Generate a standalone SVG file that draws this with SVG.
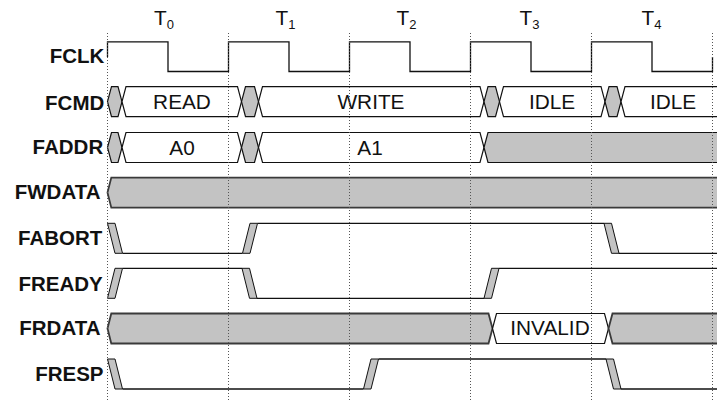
<svg xmlns="http://www.w3.org/2000/svg" width="717" height="402" viewBox="0 0 717 402">
  <style>
    .lbl { font-family: "Liberation Sans", Arial, sans-serif; font-size: 20.5px; font-weight: bold; fill: #111; text-anchor: end; }
    .cyc { font-family: "Liberation Sans", Arial, sans-serif; font-size: 20.8px; fill: #111; }
    .sub { font-size: 13px; }
    .val { font-family: "Liberation Sans", Arial, sans-serif; font-size: 20.8px; fill: #111; text-anchor: middle; }
    .wire { fill: none; stroke: #111; stroke-width: 1.3; }
    .bus { stroke: #111; stroke-width: 1.2; stroke-linejoin: miter; }
    .busw { fill: #fff; }
    .busx { fill: #c3c3c3; }
    .bar { fill: #c3c3c3; stroke: #3a3a3a; stroke-width: 1.8; }
    .edge { fill: #c3c3c3; stroke: #111; stroke-width: 1; }
    .grid { stroke: #555; stroke-width: 1; stroke-dasharray: 1 2; fill: none; }
  </style>

  <rect width="717" height="402" fill="#fff"/>

  <!-- cycle labels -->
  <g id="cycles">
    <text class="cyc" x="154" y="25">T<tspan class="sub" dy="3.5">0</tspan></text>
    <text class="cyc" x="275.5" y="25">T<tspan class="sub" dy="3.5">1</tspan></text>
    <text class="cyc" x="396.5" y="25">T<tspan class="sub" dy="3.5">2</tspan></text>
    <text class="cyc" x="519.5" y="25">T<tspan class="sub" dy="3.5">3</tspan></text>
    <text class="cyc" x="641.5" y="25">T<tspan class="sub" dy="3.5">4</tspan></text>
  </g>

  <!-- signal names -->
  <g id="labels">
    <text class="lbl" x="104.3" y="63.3">FCLK</text>
    <text class="lbl" x="104.3" y="109.5">FCMD</text>
    <text class="lbl" x="103.2" y="153.5">FADDR</text>
    <text class="lbl" x="100.5" y="198.5">FWDATA</text>
    <text class="lbl" x="102.3" y="245">FABORT</text>
    <text class="lbl" x="102.8" y="290.5">FREADY</text>
    <text class="lbl" x="100.5" y="335">FRDATA</text>
    <text class="lbl" x="103.5" y="380.5">FRESP</text>
  </g>

  <!-- clock -->
  <g id="fclk">
    <path class="wire" d="M107.5,57 V41.8 H168 V71.5 H228.5 V41.8 H289 V71.5 H349.5 V41.8 H410 V71.5 H470.5 V41.8 H531 V71.5 H591.5 V41.8 H652 V71.5 H712.5 V57"/>
  </g>

  <!-- command bus -->
  <g id="fcmd" class="bus">
    <polygon class="busx" points="107.5,101.7 111.5,86.7 118,86.7 122,101.7 118,116.7 111.5,116.7"/>
    <polygon class="busw" points="122,101.7 126,86.7 237.5,86.7 241.5,101.7 237.5,116.7 126,116.7"/>
    <polygon class="busx" points="241.5,101.7 245.5,86.7 254.5,86.7 258.5,101.7 254.5,116.7 245.5,116.7"/>
    <polygon class="busw" points="258.5,101.7 262.5,86.7 480,86.7 484,101.7 480,116.7 262.5,116.7"/>
    <polygon class="busx" points="484,101.7 488,86.7 495.5,86.7 499.5,101.7 495.5,116.7 488,116.7"/>
    <polygon class="busw" points="499.5,101.7 503.5,86.7 601,86.7 605,101.7 601,116.7 503.5,116.7"/>
    <polygon class="busx" points="605,101.7 609,86.7 617,86.7 621,101.7 617,116.7 609,116.7"/>
    <polygon class="busw" points="621,101.7 625,86.7 722,86.7 722,116.7 625,116.7"/>
  </g>
  <g id="fcmd-values">
    <text class="val" x="182" y="109">READ</text>
    <text class="val" x="371" y="109">WRITE</text>
    <text class="val" x="552" y="109">IDLE</text>
    <text class="val" x="673" y="109">IDLE</text>
  </g>

  <!-- address bus -->
  <g id="faddr" class="bus">
    <polygon class="busx" points="107.5,147.5 111.5,132.5 118,132.5 122,147.5 118,162.5 111.5,162.5"/>
    <polygon class="busw" points="122,147.5 126,132.5 237.5,132.5 241.5,147.5 237.5,162.5 126,162.5"/>
    <polygon class="busx" points="241.5,147.5 245.5,132.5 254.5,132.5 258.5,147.5 254.5,162.5 245.5,162.5"/>
    <polygon class="busw" points="258.5,147.5 262.5,132.5 480,132.5 484,147.5 480,162.5 262.5,162.5"/>
    <polygon class="busx" points="484,147.5 488,132.5 722,132.5 722,162.5 488,162.5"/>
  </g>
  <g id="faddr-values">
    <text class="val" x="182" y="154.5">A0</text>
    <text class="val" x="370" y="154.5">A1</text>
  </g>

  <!-- write data -->
  <g id="fwdata">
    <polygon class="bar" points="107.5,192.6 111.3,177.6 722,177.6 722,207.6 111.3,207.6"/>
  </g>

  <!-- abort -->
  <g id="fabort">
    <polyline class="wire" points="122.5,253.3 242.5,253.3"/>
    <polyline class="wire" points="257.5,223.3 604,223.3"/>
    <polyline class="wire" points="619,253.3 722,253.3"/>
    <polygon class="edge" points="107.5,223.3 115,223.3 122.5,253.3 115,253.3"/>
    <polygon class="edge" points="242.5,253.3 250,253.3 257.5,223.3 250,223.3"/>
    <polygon class="edge" points="604,223.3 611.5,223.3 619,253.3 611.5,253.3"/>
  </g>

  <!-- ready -->
  <g id="fready">
    <polyline class="wire" points="122.5,268.3 242,268.3"/>
    <polyline class="wire" points="257,298.3 484,298.3"/>
    <polyline class="wire" points="499,268.3 722,268.3"/>
    <polygon class="edge" points="107.5,298.3 115,298.3 122.5,268.3 115,268.3"/>
    <polygon class="edge" points="242,268.3 249.5,268.3 257,298.3 249.5,298.3"/>
    <polygon class="edge" points="484,298.3 491.5,298.3 499,268.3 491.5,268.3"/>
  </g>

  <!-- read data -->
  <g id="frdata">
    <polygon class="bar" points="107.5,328.5 111.3,313.5 488.5,313.5 492.5,328.5 488.5,343.5 111.3,343.5"/>
    <polygon class="bus busw" points="492.5,328.5 496.5,313.5 604.5,313.5 608.5,328.5 604.5,343.5 496.5,343.5"/>
    <polygon class="bar" points="608.5,328.5 612.5,313.5 722,313.5 722,343.5 612.5,343.5"/>
    <text class="val" x="550" y="335">INVALID</text>
  </g>

  <!-- response -->
  <g id="fresp">
    <polyline class="wire" points="122.5,389 363.5,389"/>
    <polyline class="wire" points="378.5,359 606,359"/>
    <polyline class="wire" points="621,389 722,389"/>
    <polygon class="edge" points="107.5,359 115,359 122.5,389 115,389"/>
    <polygon class="edge" points="363.5,389 371,389 378.5,359 371,359"/>
    <polygon class="edge" points="606,359 613.5,359 621,389 613.5,389"/>
  </g>

  <!-- clock-edge markers -->
  <g id="time-markers" class="grid">
    <line x1="107.5" y1="33" x2="107.5" y2="402"/>
    <line x1="228.5" y1="33" x2="228.5" y2="402"/>
    <line x1="349.5" y1="33" x2="349.5" y2="402"/>
    <line x1="470.5" y1="33" x2="470.5" y2="402"/>
    <line x1="591.5" y1="33" x2="591.5" y2="402"/>
    <line x1="712.5" y1="33" x2="712.5" y2="402"/>
  </g>
</svg>
